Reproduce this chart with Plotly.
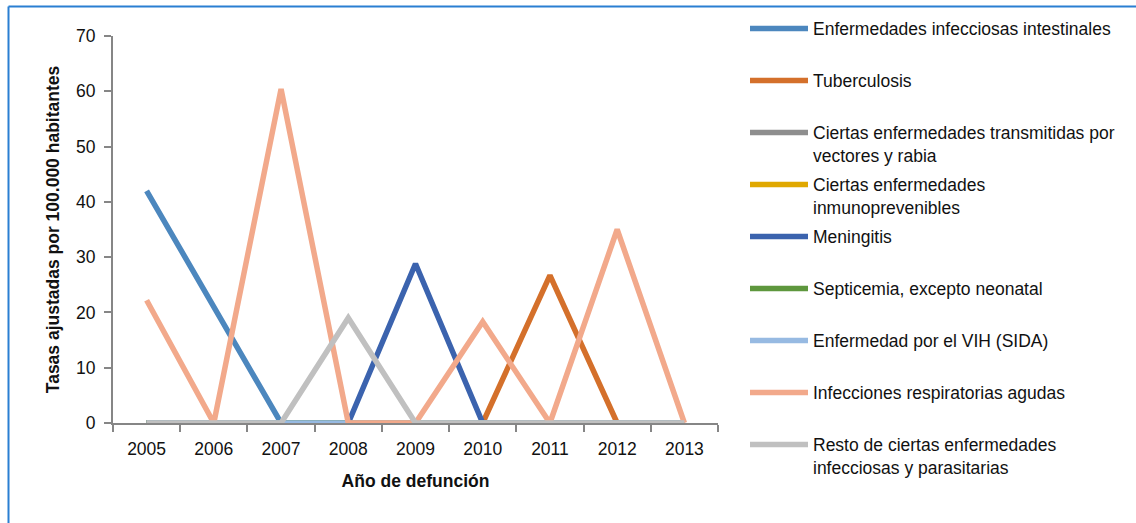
import plotly.graph_objects as go

# Mortality by infectious disease group, adjusted rates per 100.000 inhabitants
years = ["2005", "2006", "2007", "2008", "2009", "2010", "2011", "2012", "2013"]

intestinales = [42.0, 21.0, 0, 0, 0, 0, 0, 0, 0]
tuberculosis = [0, 0, 0, 0, 0, 0, 26.7, 0, 0]
transmitidas = [0, 0, 0, 0, 0, 0, 0, 0, 0]
inmunoprevenibles = [0, 0, 0, 0, 0, 0, 0, 0, 0]
meningitis = [0, 0, 0, 0, 28.8, 0, 0, 0, 0]
septicemia = [0, 0, 0, 0, 0, 0, 0, 0, 0]
vih = [0, 0, 0, 0, 0, 0, 0, 0, 0]
respiratorias = [22.2, 0, 60.4, 0, 0, 18.3, 0, 35.0, 0]
resto = [0, 0, 0, 19.0, 0, 0, 0, 0, 0]

series_names = [
    "Enfermedades infecciosas intestinales",
    "Tuberculosis",
    "Ciertas enfermedades transmitidas por<br>vectores y rabia",
    "Ciertas enfermedades<br>inmunoprevenibles",
    "Meningitis",
    "Septicemia, excepto neonatal",
    "Enfermedad por el VIH (SIDA)",
    "Infecciones respiratorias agudas",
    "Resto de ciertas enfermedades<br>infecciosas y parasitarias",
]
series_values = [intestinales, tuberculosis, transmitidas, inmunoprevenibles,
                 meningitis, septicemia, vih, respiratorias, resto]
series_colors = ["#4C87BE", "#D4702B", "#8E8E8E", "#E0A800", "#3B63AE",
                 "#5E973D", "#97BAE2", "#F2A98B", "#C0C0C0"]

W, H = 1136, 523
FONT = "Liberation Sans, Arial, sans-serif"
FS = 17.5
TXT = "#111111"

fig = go.Figure()
legend_layout = {}
for i, (name, vals, col) in enumerate(zip(series_names, series_values, series_colors)):
    key = "legend" if i == 0 else f"legend{i + 1}"
    fig.add_trace(go.Scatter(
        x=years, y=vals, name=name, mode="lines",
        line=dict(color=col, width=5.5),
        legend=key,
    ))
    # one single-entry legend per series, stacked down the right side
    sym_y = 29 + 52 * i
    legend_layout[key] = dict(
        xref="container", yref="container",
        x=745 / W, y=1 - (sym_y - 18.5) / H,
        xanchor="left", yanchor="top",
        valign="top", itemwidth=58,
        bgcolor="rgba(0,0,0,0)", borderwidth=0,
        font=dict(family=FONT, size=FS, color=TXT),
    )

fig.update_layout(
    width=W, height=H,
    margin=dict(l=113, r=W - 718, t=36, b=H - 423),
    paper_bgcolor="white", plot_bgcolor="white",
    showlegend=True,
    font=dict(family=FONT, size=FS, color=TXT),
    xaxis=dict(
        type="category", categoryorder="array", categoryarray=years,
        range=[-0.5, len(years) - 0.5],
        showline=True, linecolor="#868686", linewidth=2,
        ticks="outside", tickson="boundaries", ticklen=7, tickwidth=2,
        tickcolor="#868686", showgrid=False, zeroline=False,
        ticklabelstandoff=9,
        tickfont=dict(family=FONT, size=FS, color=TXT),
        title=dict(text="<b>Año de defunción</b>", standoff=17,
                   font=dict(family=FONT, size=FS, color=TXT)),
    ),
    yaxis=dict(
        range=[0, 70], dtick=10,
        showline=True, linecolor="#868686", linewidth=2,
        ticks="outside", ticklen=7, tickwidth=2, tickcolor="#868686",
        showgrid=False, zeroline=False,
        ticklabelstandoff=5,
        tickfont=dict(family=FONT, size=FS, color=TXT),
        title=dict(text="<b>Tasas ajustadas por 100.000 habitantes</b>", standoff=12,
                   font=dict(family=FONT, size=FS, color=TXT)),
    ),
    shapes=[
        # blue frame around the chart
        dict(type="line", xref="paper", yref="paper",
             x0=(8.5 - 113) / 605, x1=(W + 5 - 113) / 605,
             y0=(423 - 6.5) / 387, y1=(423 - 6.5) / 387,
             line=dict(color="#2A7FD2", width=2)),
        dict(type="line", xref="paper", yref="paper",
             x0=(8.5 - 113) / 605, x1=(8.5 - 113) / 605,
             y0=(423 - 6.5) / 387, y1=(423 - H - 5) / 387,
             line=dict(color="#2A7FD2", width=2)),
    ],
    **legend_layout,
)

fig.write_html("out.html")
